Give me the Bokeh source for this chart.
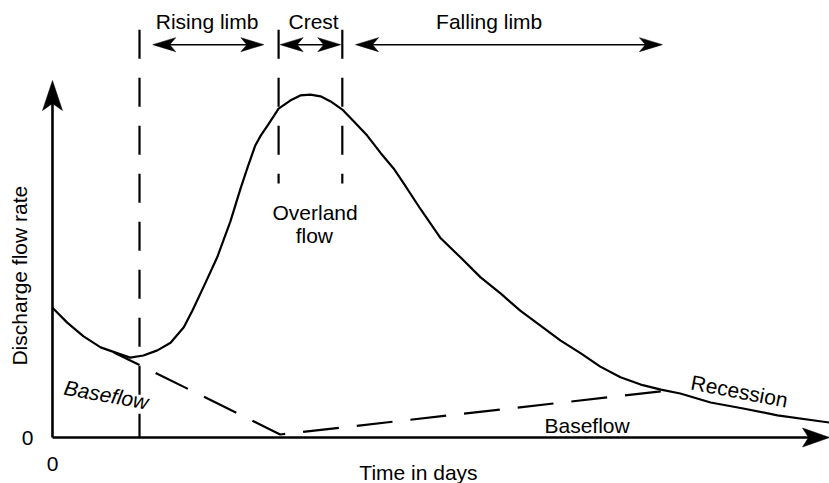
import math
from bokeh.plotting import figure
from bokeh.models import Label
from bokeh.embed import file_html
from bokeh.resources import INLINE

# ---------------- data (time in days, discharge in arbitrary units) ----------------
HYDRO_T = [0.00, 0.19, 0.40, 0.62, 0.84, 1.00, 1.17, 1.35, 1.52, 1.69, 1.80, 1.94,
           2.12, 2.29, 2.42, 2.51, 2.61, 2.68, 2.77, 2.91, 3.06, 3.19, 3.32, 3.45,
           3.58, 3.73, 3.87, 4.05, 4.22, 4.39, 4.52, 4.74, 4.99, 5.25, 5.51, 5.77,
           6.02, 6.28, 6.54, 6.80, 7.05, 7.31, 7.57, 7.83, 8.08, 8.47, 8.89, 9.33,
           10.00]
HYDRO_Q = [3.04, 2.69, 2.37, 2.11, 1.97, 1.87, 1.92, 2.04, 2.22, 2.58, 2.97, 3.51,
           4.22, 5.06, 5.83, 6.32, 6.84, 7.07, 7.31, 7.70, 7.89, 8.01, 8.03, 7.99,
           7.87, 7.68, 7.42, 7.07, 6.67, 6.30, 5.95, 5.34, 4.68, 4.22, 3.75, 3.37,
           2.97, 2.62, 2.27, 1.97, 1.66, 1.41, 1.24, 1.12, 1.03, 0.82, 0.68, 0.52,
           0.35]

BASE_SOLID_T = [0.79, 1.12]
BASE_SOLID_Q = [1.99, 1.70]
BASE_DASH_T = [1.12, 2.93, 7.92]
BASE_DASH_Q = [1.70, 0.07, 1.10]

# phase boundaries (vertical dashed markers)
MARK_T = [1.12, 2.91, 3.73]
MARK_TOP = 9.55
MARK_BOTTOM = [0.0, 5.95, 5.95]

# phase span arrows at the top
SPAN_NAMES = ["Rising limb", "Crest", "Falling limb"]
SPAN_START = [1.29, 2.93, 3.90]
SPAN_END = [2.72, 3.71, 7.85]
SPAN_Q = 9.20
SPAN_LABEL_T = [1.99, 3.36, 5.62]
SPAN_LABEL_Q = 9.75

X_TICKS = [0]
Y_TICKS = [0]
X_AXIS_END = 10.0
Y_AXIS_END = 8.36

# ---------------- figure ----------------
W, H = 829, 483
X_RANGE = (-0.669, 10.0)
Y_RANGE = (-1.077, 10.234)
PXX = (X_RANGE[1] - X_RANGE[0]) / W   # data units per pixel
PXY = (Y_RANGE[1] - Y_RANGE[0]) / H

FONT = "Liberation Sans"
FS = "21px"

p = figure(width=W, height=H, x_range=X_RANGE, y_range=Y_RANGE,
           output_backend="svg", toolbar_location=None,
           x_axis_type=None, y_axis_type=None,
           min_border=0, min_border_left=0, min_border_right=0,
           min_border_top=0, min_border_bottom=0)
p.outline_line_color = None
p.grid.visible = False
p.background_fill_color = "white"
p.border_fill_color = "white"


def head(tx, ty, ux, uy, length, width, notch):
    nx, ny = -uy, ux
    pts = [(0, 0),
           (-ux * length + nx * width / 2, -uy * length + ny * width / 2),
           (-ux * (length - notch), -uy * (length - notch)),
           (-ux * length - nx * width / 2, -uy * length - ny * width / 2)]
    return [tx + a * PXX for a, b in pts], [ty + b * PXY for a, b in pts]


heads_x, heads_y = [], []

# axes drawn as arrows
p.line([0, 0], [0, Y_AXIS_END - 20 * PXY], line_color="black", line_width=2.6)
p.line([0, X_AXIS_END - 20 * PXX], [0, 0], line_color="black", line_width=2.6)
hx, hy = head(0, Y_AXIS_END, 0, 1, 30, 20, 7)
heads_x.append(hx); heads_y.append(hy)
hx, hy = head(X_AXIS_END, 0, 1, 0, 27, 19, 6)
heads_x.append(hx); heads_y.append(hy)

# vertical phase markers
for t, b in zip(MARK_T, MARK_BOTTOM):
    p.line([t, t], [MARK_TOP, b], line_color="black", line_width=2.2,
           line_dash="29 19")

# span arrows
for s, e in zip(SPAN_START, SPAN_END):
    p.line([s + 15 * PXX, e - 15 * PXX], [SPAN_Q, SPAN_Q], line_color="black",
           line_width=1.5)
    hx, hy = head(e, SPAN_Q, 1, 0, 23, 14, 6)
    heads_x.append(hx); heads_y.append(hy)
    hx, hy = head(s, SPAN_Q, -1, 0, 23, 14, 6)
    heads_x.append(hx); heads_y.append(hy)

p.patches(heads_x, heads_y, fill_color="black", line_color="black", line_width=0.5)

# baseflow separation
p.line(BASE_SOLID_T, BASE_SOLID_Q, line_color="black", line_width=2.2)
p.line(BASE_DASH_T, BASE_DASH_Q, line_color="black", line_width=2.2,
       line_dash="36 18", line_dash_offset=36)

# hydrograph
p.line(HYDRO_T, HYDRO_Q, line_color="black", line_width=2.2, line_join="round")


def lab(text, x, y, align="center", angle=0.0, style="normal"):
    p.add_layout(Label(x=x, y=y, text=text, text_align=align, text_baseline="middle",
                       angle=angle, text_font=FONT, text_font_size=FS,
                       text_font_style=style, text_color="black"))


# tick labels at the origin
for t in X_TICKS:
    lab(str(t), t, -0.62)
for q in Y_TICKS:
    lab(str(q), -0.32, q)

for name, t in zip(SPAN_NAMES, SPAN_LABEL_T):
    lab(name, t, SPAN_LABEL_Q)
lab("Overland", 3.38, 5.28)
lab("flow", 3.37, 4.72)
lab("Baseflow", 0.153, 1.18, align="left", angle=-0.178, style="italic")
lab("Recession", 8.22, 1.30, align="left", angle=-0.187)
lab("Baseflow", 6.88, 0.27)
lab("Discharge flow rate", -0.43, 3.79, angle=math.pi / 2)
lab("Time in days", 4.71, -0.81)

open("out.html", "w").write(file_html(p, INLINE))
